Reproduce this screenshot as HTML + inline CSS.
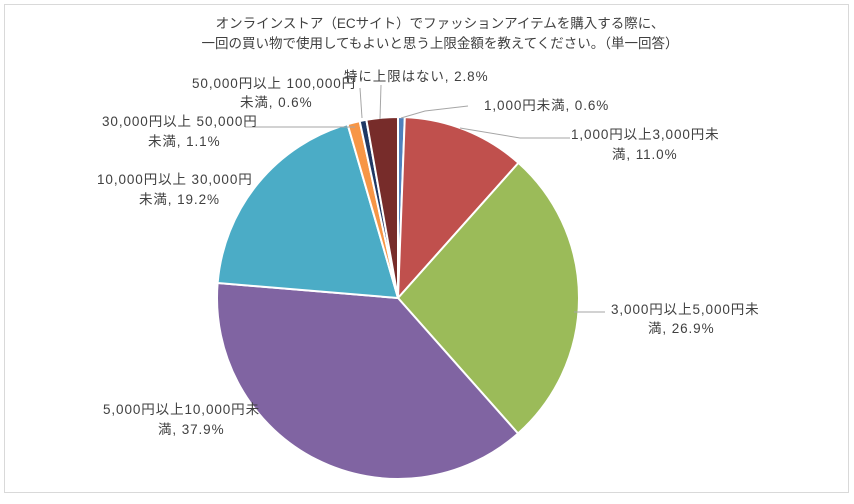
<!DOCTYPE html>
<html><head><meta charset="utf-8"><style>
body{margin:0;background:#fff;}
svg text{font-family:"Liberation Sans","Noto Sans CJK JP",sans-serif;font-size:13.5px;letter-spacing:0.9px;fill:#404040;}
svg text.t{letter-spacing:0;font-size:13.5px;}
</style></head><body>
<svg id="s" width="854" height="499" xmlns="http://www.w3.org/2000/svg">
<rect x="4.5" y="4.5" width="844" height="488" fill="#fff" stroke="#d9d9d9"/>
<text class="t" x="440" y="28" text-anchor="middle">オンラインストア（ECサイト）でファッションアイテムを購入する際に、</text>
<text class="t" x="440" y="48" text-anchor="middle">一回の買い物で使用してもよいと思う上限金額を教えてください。（単一回答）</text>
<g id="pie"></g>
<g stroke="#a6a6a6" fill="none" stroke-width="1">
<polyline points="401,118 425,111 468,106"/>
<polyline points="460,128 520,138 570,138"/>
<polyline points="574,312 605,312"/>
<polyline points="245,127 355,127"/>
<polyline points="362,118 360,88"/>
<polyline points="380,119 381,85"/>
</g>
<text x="484" y="110">1,000円未満, 0.6%</text>
<text x="571" y="139">1,000円以上3,000円未</text>
<text x="612" y="159">満, 11.0%</text>
<text x="611" y="314">3,000円以上5,000円未</text>
<text x="648" y="333">満, 26.9%</text>
<text x="103" y="414">5,000円以上10,000円未</text>
<text x="158" y="434">満, 37.9%</text>
<text x="97" y="184">10,000円以上 30,000円</text>
<text x="139" y="204">未満, 19.2%</text>
<text x="102" y="126">30,000円以上 50,000円</text>
<text x="148" y="146">未満, 1.1%</text>
<text x="192" y="88">50,000円以上 100,000円</text>
<text x="240" y="107">未満, 0.6%</text>
<text x="344" y="81">特に上限はない, 2.8%</text>
</svg>
<script>
var d=[[0.6,"#4f81bd"],[11.0,"#c0504d"],[26.9,"#9bbb59"],[37.9,"#8064a2"],[19.2,"#4bacc6"],[1.1,"#f79646"],[0.6,"#1f3864"],[2.8,"#772c2a"]];
var cx=398,cy=298,r=181,a=0,tot=100.1,g=document.getElementById("pie"),h="";
d.forEach(function(e){var a2=a+e[0]/tot*2*Math.PI;
var x1=cx+r*Math.sin(a),y1=cy-r*Math.cos(a),x2=cx+r*Math.sin(a2),y2=cy-r*Math.cos(a2);
h+='<path d="M'+cx+','+cy+' L'+x1+','+y1+' A'+r+','+r+' 0 '+((a2-a)>Math.PI?1:0)+' 1 '+x2+','+y2+' Z" fill="'+e[1]+'" stroke="#fff" stroke-width="2"/>';a=a2;});
g.innerHTML=h;
</script>
</body></html>
